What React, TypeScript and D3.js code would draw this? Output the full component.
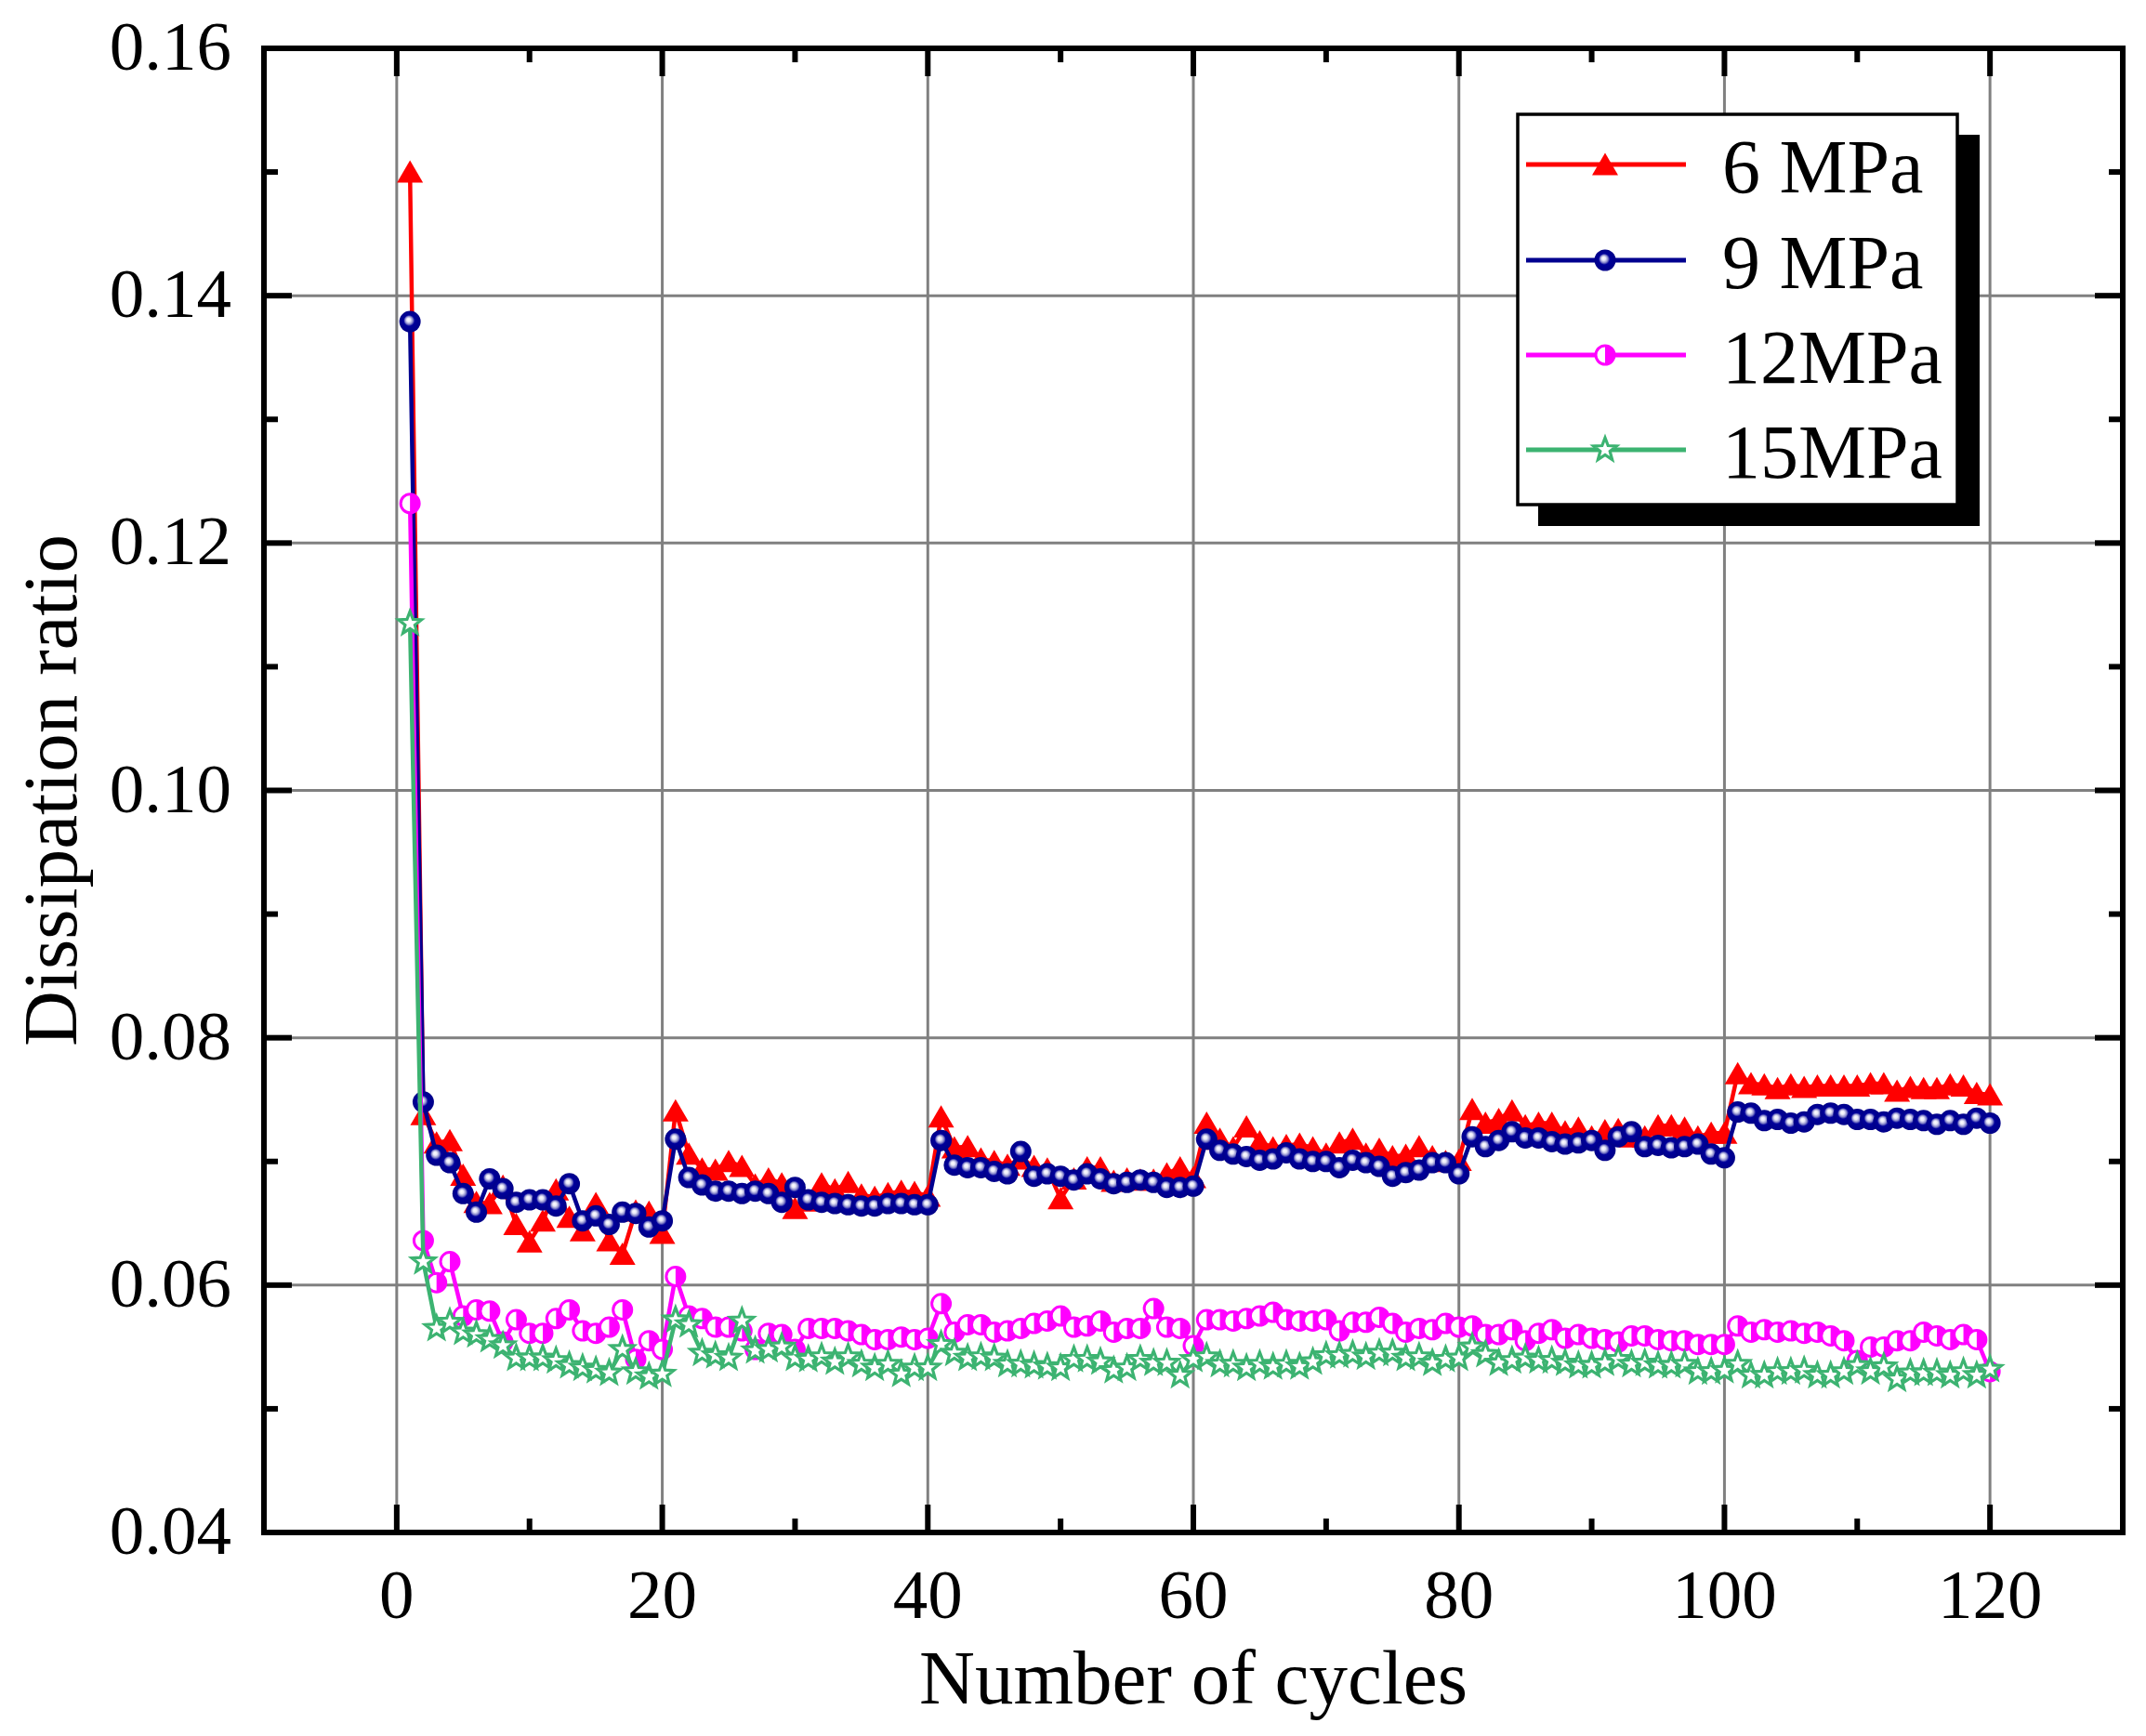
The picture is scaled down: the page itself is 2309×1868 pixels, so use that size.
import React from "react";
import * as d3 from "d3";

const cycles: number[] = Array.from({ length: 120 }, (_, i) => i + 1);

const mpa6: number[] = [
  0.1500, 0.0738, 0.0715, 0.0717, 0.0689, 0.0667, 0.0666, 0.0680, 0.0649, 0.0635,
  0.0652, 0.0677, 0.0655, 0.0644, 0.0666, 0.0636, 0.0625, 0.0660, 0.0659, 0.0642,
  0.0741, 0.0706, 0.0694, 0.0693, 0.0700, 0.0696, 0.0681, 0.0686, 0.0682, 0.0662,
  0.0668, 0.0682, 0.0677, 0.0683, 0.0673, 0.0671, 0.0674, 0.0676, 0.0675, 0.0672,
  0.0736, 0.0711, 0.0712, 0.0702, 0.0700, 0.0697, 0.0702, 0.0696, 0.0694, 0.0670,
  0.0686, 0.0695, 0.0695, 0.0684, 0.0686, 0.0685, 0.0685, 0.0690, 0.0695, 0.0687,
  0.0731, 0.0718, 0.0711, 0.0728, 0.0716, 0.0711, 0.0713, 0.0714, 0.0711, 0.0706,
  0.0715, 0.0718, 0.0706, 0.0710, 0.0704, 0.0705, 0.0712, 0.0704, 0.0700, 0.0701,
  0.0742, 0.0731, 0.0734, 0.0741, 0.0729, 0.0731, 0.0731, 0.0724, 0.0727, 0.0720,
  0.0725, 0.0726, 0.0720, 0.0720, 0.0729, 0.0729, 0.0727, 0.0720, 0.0723, 0.0723,
  0.0771, 0.0763, 0.0762, 0.0759, 0.0762, 0.0760, 0.0761, 0.0761, 0.0761, 0.0761,
  0.0763, 0.0763, 0.0757, 0.0760, 0.0759, 0.0759, 0.0762, 0.0761, 0.0755, 0.0754,
];

const mpa9: number[] = [
  0.1379, 0.0748, 0.0705, 0.0699, 0.0674, 0.0659, 0.0686, 0.0678, 0.0667, 0.0669,
  0.0669, 0.0664, 0.0682, 0.0652, 0.0656, 0.0649, 0.0659, 0.0658, 0.0647, 0.0652,
  0.0718, 0.0687, 0.0681, 0.0676, 0.0676, 0.0674, 0.0676, 0.0674, 0.0667, 0.0679,
  0.0669, 0.0667, 0.0666, 0.0665, 0.0664, 0.0664, 0.0666, 0.0666, 0.0665, 0.0665,
  0.0717, 0.0697, 0.0695, 0.0695, 0.0692, 0.0690, 0.0708, 0.0688, 0.0690, 0.0688,
  0.0685, 0.0690, 0.0686, 0.0682, 0.0683, 0.0685, 0.0683, 0.0679, 0.0679, 0.0680,
  0.0718, 0.0709, 0.0706, 0.0704, 0.0701, 0.0702, 0.0707, 0.0702, 0.0700, 0.0700,
  0.0695, 0.0701, 0.0699, 0.0696, 0.0688, 0.0691, 0.0693, 0.0699, 0.0699, 0.0690,
  0.0720, 0.0712, 0.0717, 0.0724, 0.0719, 0.0719, 0.0716, 0.0714, 0.0715, 0.0717,
  0.0709, 0.0720, 0.0724, 0.0712, 0.0713, 0.0711, 0.0712, 0.0714, 0.0706, 0.0703,
  0.0740, 0.0739, 0.0733, 0.0734, 0.0731, 0.0732, 0.0738, 0.0739, 0.0738, 0.0734,
  0.0734, 0.0732, 0.0735, 0.0734, 0.0733, 0.0730, 0.0733, 0.0730, 0.0735, 0.0731,
];

const mpa12: number[] = [
  0.1232, 0.0636, 0.0602, 0.0619, 0.0575, 0.0580, 0.0579, 0.0554, 0.0572, 0.0561,
  0.0561, 0.0573, 0.0580, 0.0563, 0.0561, 0.0566, 0.0580, 0.0540, 0.0555, 0.0548,
  0.0607, 0.0575, 0.0573, 0.0566, 0.0566, 0.0563, 0.0548, 0.0561, 0.0560, 0.0548,
  0.0565, 0.0565, 0.0565, 0.0563, 0.0560, 0.0556, 0.0556, 0.0558, 0.0556, 0.0557,
  0.0585, 0.0562, 0.0568, 0.0568, 0.0562, 0.0563, 0.0565, 0.0569, 0.0571, 0.0575,
  0.0566, 0.0567, 0.0571, 0.0562, 0.0565, 0.0565, 0.0581, 0.0566, 0.0565, 0.0551,
  0.0572, 0.0572, 0.0571, 0.0573, 0.0575, 0.0578, 0.0572, 0.0571, 0.0571, 0.0572,
  0.0563, 0.0570, 0.0570, 0.0574, 0.0569, 0.0562, 0.0565, 0.0564, 0.0569, 0.0566,
  0.0567, 0.0560, 0.0560, 0.0564, 0.0555, 0.0561, 0.0564, 0.0557, 0.0560, 0.0557,
  0.0556, 0.0554, 0.0559, 0.0559, 0.0556, 0.0555, 0.0555, 0.0552, 0.0552, 0.0552,
  0.0567, 0.0562, 0.0564, 0.0562, 0.0563, 0.0561, 0.0562, 0.0559, 0.0555, 0.0539,
  0.0550, 0.0550, 0.0555, 0.0555, 0.0562, 0.0559, 0.0556, 0.0560, 0.0556, 0.0530,
];

const mpa15: number[] = [
  0.1135, 0.0619, 0.0565, 0.0570, 0.0562, 0.0560, 0.0556, 0.0551, 0.0541, 0.0541,
  0.0541, 0.0539, 0.0535, 0.0533, 0.0531, 0.0529, 0.0548, 0.0530, 0.0526, 0.0528,
  0.0572, 0.0568, 0.0545, 0.0543, 0.0541, 0.0571, 0.0547, 0.0548, 0.0550, 0.0541,
  0.0540, 0.0542, 0.0538, 0.0542, 0.0536, 0.0533, 0.0536, 0.0528, 0.0533, 0.0533,
  0.0552, 0.0545, 0.0541, 0.0542, 0.0541, 0.0536, 0.0536, 0.0535, 0.0534, 0.0533,
  0.0540, 0.0540, 0.0538, 0.0531, 0.0533, 0.0540, 0.0537, 0.0537, 0.0527, 0.0540,
  0.0542, 0.0536, 0.0536, 0.0533, 0.0536, 0.0534, 0.0536, 0.0534, 0.0538, 0.0543,
  0.0543, 0.0544, 0.0542, 0.0545, 0.0545, 0.0541, 0.0542, 0.0537, 0.0540, 0.0541,
  0.0550, 0.0544, 0.0537, 0.0539, 0.0541, 0.0539, 0.0539, 0.0537, 0.0535, 0.0535,
  0.0537, 0.0540, 0.0536, 0.0537, 0.0535, 0.0535, 0.0536, 0.0530, 0.0530, 0.0531,
  0.0536, 0.0527, 0.0527, 0.0530, 0.0530, 0.0531, 0.0527, 0.0527, 0.0530, 0.0535,
  0.0530, 0.0534, 0.0524, 0.0529, 0.0529, 0.0529, 0.0527, 0.0530, 0.0527, 0.0532,
];

const seriesNames: string[] = ["6 MPa", "9 MPa", "12MPa", "15MPa"];
const seriesColors: string[] = ["#FF0000", "#00008F", "#FF00FF", "#3CB371"];
const seriesMarkers: string[] = ["triangle", "sphere", "half", "star"];

const xTicks: number[] = [0, 20, 40, 60, 80, 100, 120];
const xMinor: number[] = [-10, 10, 30, 50, 70, 90, 110, 130];
const yTicks: number[] = [0.04, 0.06, 0.08, 0.1, 0.12, 0.14, 0.16];
const yTickLabels: string[] = ["0.04", "0.06", "0.08", "0.10", "0.12", "0.14", "0.16"];
const yMinor: number[] = [0.05, 0.07, 0.09, 0.11, 0.13, 0.15];

const W = 2309;
const H = 1868;
const L = 284, R = 2284, T = 52, B = 1649;
const FONT = "'Liberation Serif', 'Times New Roman', serif";

const starPath = (ro: number, ri: number): string => {
  const pts: string[] = [];
  for (let i = 0; i < 10; i++) {
    const r = i % 2 === 0 ? ro : ri;
    const a = -Math.PI / 2 + (i * Math.PI) / 5;
    pts.push(`${(r * Math.cos(a)).toFixed(2)},${(r * Math.sin(a)).toFixed(2)}`);
  }
  return "M" + pts.join("L") + "Z";
};

const Marker: React.FC<{ kind: string; x: number; y: number; color: string }> = ({ kind, x, y, color }) => {
  if (kind === "triangle") {
    return <path d="M0,-12.5L14,11.5L-14,11.5Z" transform={`translate(${x},${y})`} fill={color} />;
  }
  if (kind === "sphere") {
    return <circle cx={x} cy={y} r={11.5} fill="url(#sphereGrad)" />;
  }
  if (kind === "half") {
    const r = 10;
    return (
      <g transform={`translate(${x},${y})`}>
        <circle r={r} fill="#FFFFFF" stroke={color} strokeWidth={3} />
        <path d={`M0,${-r}A${r},${r} 0 0 1 0,${r}Z`} fill={color} />
      </g>
    );
  }
  return <path d={starPath(13, 5.5)} transform={`translate(${x},${y})`} fill="#FFFFFF" stroke={color} strokeWidth={3.2} strokeLinejoin="miter" />;
};

export default function App() {
  const x = d3.scaleLinear().domain([-10, 130]).range([L, R]);
  const y = d3.scaleLinear().domain([0.04, 0.16]).range([B, T]);
  const data = [mpa6, mpa9, mpa12, mpa15];
  const line = d3
    .line<number>()
    .x((_, i) => x(cycles[i]))
    .y((d) => y(d));

  const legendRows = [177, 280, 382, 484];

  return (
    <svg width={W} height={H} style={{ position: "absolute", left: 0, top: 0, background: "#fff" }} fontFamily={FONT}>
      <defs>
        <radialGradient id="sphereGrad" cx="0.5" cy="0.5" r="0.5" fx="0.42" fy="0.4">
          <stop offset="0" stopColor="#FFFFFF" />
          <stop offset="0.18" stopColor="#E8E8F8" />
          <stop offset="0.36" stopColor="#8A8ACC" />
          <stop offset="0.52" stopColor="#00009A" />
          <stop offset="1" stopColor="#000088" />
        </radialGradient>
        <clipPath id="plotClip">
          <rect x={L} y={T} width={R - L} height={B - T} />
        </clipPath>
      </defs>
      <rect width={W} height={H} fill="#fff" />

      {/* grid */}
      {xTicks.map((t) => (
        <line key={"gx" + t} x1={x(t)} x2={x(t)} y1={T} y2={B} stroke="#808080" strokeWidth={3} />
      ))}
      {yTicks.slice(1, -1).map((t) => (
        <line key={"gy" + t} x1={L} x2={R} y1={y(t)} y2={y(t)} stroke="#808080" strokeWidth={3} />
      ))}

      {/* series */}
      <g clipPath="url(#plotClip)">
        {data.map((vals, si) => (
          <g key={"s" + si}>
            <path d={line(vals) || ""} fill="none" stroke={seriesColors[si]} strokeWidth={4.5} strokeLinejoin="round" />
            {vals.map((v, i) => (
              <Marker key={i} kind={seriesMarkers[si]} x={x(cycles[i])} y={y(v)} color={seriesColors[si]} />
            ))}
          </g>
        ))}
      </g>

      {/* ticks */}
      {xTicks.map((t) => (
        <g key={"tx" + t}>
          <line x1={x(t)} x2={x(t)} y1={B} y2={B - 30} stroke="#000" strokeWidth={6} />
          <line x1={x(t)} x2={x(t)} y1={T} y2={T + 30} stroke="#000" strokeWidth={6} />
          <text x={x(t)} y={1741} textAnchor="middle" fontSize={75}>
            {t}
          </text>
        </g>
      ))}
      {xMinor.map((t) => (
        <g key={"mx" + t}>
          <line x1={x(t)} x2={x(t)} y1={B} y2={B - 15} stroke="#000" strokeWidth={6} />
          <line x1={x(t)} x2={x(t)} y1={T} y2={T + 15} stroke="#000" strokeWidth={6} />
        </g>
      ))}
      {yTicks.map((t, i) => (
        <g key={"ty" + t}>
          <line x1={L} x2={L + 30} y1={y(t)} y2={y(t)} stroke="#000" strokeWidth={6} />
          <line x1={R} x2={R - 30} y1={y(t)} y2={y(t)} stroke="#000" strokeWidth={6} />
          <text x={249} y={y(t) + 23} textAnchor="end" fontSize={75}>
            {yTickLabels[i]}
          </text>
        </g>
      ))}
      {yMinor.map((t) => (
        <g key={"my" + t}>
          <line x1={L} x2={L + 15} y1={y(t)} y2={y(t)} stroke="#000" strokeWidth={6} />
          <line x1={R} x2={R - 15} y1={y(t)} y2={y(t)} stroke="#000" strokeWidth={6} />
        </g>
      ))}

      {/* frame */}
      <rect x={L} y={T} width={R - L} height={B - T} fill="none" stroke="#000" strokeWidth={6} />

      {/* axis titles */}
      <text x={(L + R) / 2} y={1833} textAnchor="middle" fontSize={83}>
        Number of cycles
      </text>
      <text transform={`translate(82,${(T + B) / 2}) rotate(-90)`} textAnchor="middle" fontSize={83}>
        Dissipation ratio
      </text>

      {/* legend */}
      <rect x={1655} y={145} width={475} height={421} fill="#000" />
      <rect x={1633} y={123} width={473} height={420} fill="#fff" stroke="#000" strokeWidth={3.5} />
      {seriesNames.map((name, i) => (
        <g key={"lg" + i}>
          <line x1={1642} x2={1814} y1={legendRows[i]} y2={legendRows[i]} stroke={seriesColors[i]} strokeWidth={5} />
          <Marker kind={seriesMarkers[i]} x={1727} y={legendRows[i]} color={seriesColors[i]} />
          <text x={1853} y={legendRows[i] + 30} fontSize={82}>
            {name}
          </text>
        </g>
      ))}
    </svg>
  );
}
